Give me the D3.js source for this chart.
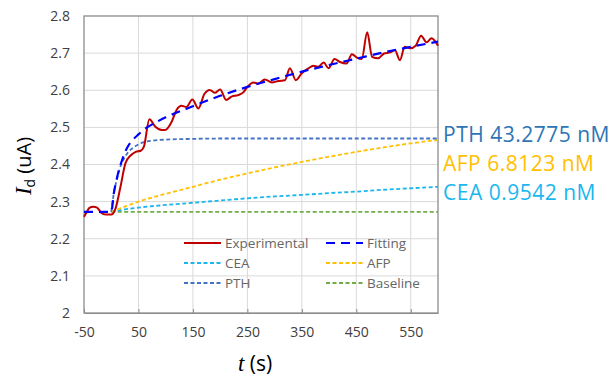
<!DOCTYPE html>
<html>
<head>
<meta charset="utf-8">
<script src="https://cdn.jsdelivr.net/npm/d3@7"></script>
<style>
  html, body { margin: 0; padding: 0; background: #fff; }
  svg { display: block; font-family: "Open Sans", "Noto Sans", sans-serif; }
</style>
</head>
<body>
<svg id="chart" width="615" height="380"></svg>
<script>
// Measured drain current (uA) over time (s)
const expT = [-50,-45,-40,-33,-26,-19,-10,0,8,17,26,36,45,54,60,70,81,93,99,111,120,129,138,149,160,171,181,190,200,211,221,233,243,250,261,270,282,295,307,319,328,339,350,362,371,380,390,399,410,420,432,442,451,460,470,479,490,501,512,521,530,539,549,559,569,579,588,600];
const expI = [2.259,2.272,2.283,2.286,2.284,2.271,2.265,2.265,2.282,2.340,2.403,2.425,2.434,2.437,2.448,2.522,2.502,2.493,2.493,2.515,2.547,2.558,2.555,2.575,2.551,2.590,2.601,2.593,2.602,2.574,2.583,2.587,2.595,2.609,2.621,2.618,2.629,2.621,2.625,2.627,2.659,2.627,2.646,2.659,2.666,2.663,2.675,2.659,2.684,2.676,2.672,2.697,2.688,2.684,2.756,2.690,2.686,2.699,2.702,2.708,2.681,2.717,2.713,2.720,2.747,2.729,2.740,2.720];

// Fitted model and its components
const fitT = [-50,0,5,10,15,20,25,30,40,50,60,80,100,150,200,250,300,350,400,450,500,550,600];
const fitI = [2.2725,2.2725,2.325,2.36,2.39,2.412,2.432,2.447,2.467,2.481,2.494,2.512,2.527,2.557,2.585,2.609,2.630,2.650,2.668,2.685,2.702,2.717,2.731];

const pthT = [0,5,10,15,20,25,30,40,50,60,80,100,150,200,300,400,500,600];
const pthI = [2.2725,2.325,2.358,2.386,2.406,2.420,2.431,2.445,2.454,2.460,2.465,2.467,2.469,2.470,2.470,2.470,2.470,2.470];

const afpT = [0,25,50,100,150,200,250,300,350,400,450,500,550,600];
const afpI = [2.2725,2.2865,2.300,2.321,2.340,2.359,2.376,2.392,2.407,2.421,2.434,2.446,2.457,2.466];

const ceaT = [0,25,50,100,150,200,250,300,350,400,450,500,550,600];
const ceaI = [2.2725,2.279,2.284,2.291,2.297,2.303,2.309,2.314,2.318,2.323,2.327,2.332,2.336,2.340];

const baseT = [0,600];
const baseI = [2.2725,2.2725];

const xTicks = [-50,50,150,250,350,450,550];
const yTicks = [2,2.1,2.2,2.3,2.4,2.5,2.6,2.7,2.8];

const labelNames = ["PTH 43.2775 nM","AFP 6.8123 nM","CEA 0.9542 nM"];

const svg = d3.select("#chart");
const L = 84, R = 438, T = 16, B = 313;
const x = d3.scaleLinear().domain([-50,600]).range([L,R]);
const y = d3.scaleLinear().domain([2,2.8]).range([B,T]);

const zip = (ts, vs) => ts.map((t,i) => [t, vs[i]]);

// grid
const g = svg.append("g");
g.selectAll(".vg").data(xTicks.slice(1)).join("line")
  .attr("x1", d => x(d)).attr("x2", d => x(d)).attr("y1", T).attr("y2", B)
  .attr("stroke", "#d9d9d9").attr("stroke-width", 1);
g.selectAll(".hg").data(yTicks.slice(1, -1)).join("line")
  .attr("x1", L).attr("x2", R).attr("y1", d => y(d)).attr("y2", d => y(d))
  .attr("stroke", "#d9d9d9").attr("stroke-width", 1);

// frame
svg.append("rect").attr("x", L).attr("y", T).attr("width", R-L).attr("height", B-T)
  .attr("fill", "none").attr("stroke", "#8c8c8c").attr("stroke-width", 1.3);

// axes
const xAxis = d3.axisBottom(x).tickValues(xTicks).tickSizeInner(-4).tickSizeOuter(0).tickPadding(14)
  .tickFormat(d => String(d));
const xg = svg.append("g").attr("transform", `translate(0,${B})`).call(xAxis);
xg.select(".domain").attr("stroke", "#8c8c8c");
xg.selectAll(".tick line").attr("stroke", "#8c8c8c");
xg.selectAll("text").attr("font-size", 14).attr("fill", "#404040").attr("font-family", "Open Sans");

const yAxis = d3.axisLeft(y).tickValues(yTicks).tickSize(0).tickPadding(14)
  .tickFormat(d => String(+d.toFixed(1)));
const yg = svg.append("g").attr("transform", `translate(${L},0)`).call(yAxis);
yg.select(".domain").remove();
yg.selectAll("text").attr("font-size", 14).attr("fill", "#404040").attr("font-family", "Open Sans");

// series
const sharp = d3.line().x(d => x(d[0])).y(d => y(d[1])).curve(d3.curveMonotoneX);
const mono = d3.line().x(d => x(d[0])).y(d => y(d[1])).curve(d3.curveMonotoneX);

const series = [
  {name:"Baseline", data: zip(baseT, baseI), color:"#70AD47", dash:"4,2.5", w:1.8, gen: mono},
  {name:"CEA", data: zip(ceaT, ceaI), color:"#1AB7EE", dash:"4,2.5", w:1.8, gen: mono},
  {name:"AFP", data: zip(afpT, afpI), color:"#FFC000", dash:"4,2.5", w:1.8, gen: mono},
  {name:"PTH", data: zip(pthT, pthI), color:"#4472C4", dash:"4,2.5", w:1.8, gen: mono},
  {name:"Experimental", data: zip(expT, expI), color:"#C00000", dash:null, w:2, gen: sharp},
  {name:"Fitting", data: zip(fitT, fitI), color:"#0000FF", dash:"9,6", w:2.2, gen: mono}
];
series.forEach(s => {
  svg.append("path").attr("d", s.gen(s.data)).attr("fill", "none")
    .attr("stroke", s.color).attr("stroke-width", s.w)
    .attr("stroke-dasharray", s.dash).attr("stroke-linejoin", "round");
});

// legend
const legend = [
  {name:"Experimental", col:0, row:0}, {name:"Fitting", col:1, row:0},
  {name:"CEA", col:0, row:1}, {name:"AFP", col:1, row:1},
  {name:"PTH", col:0, row:2}, {name:"Baseline", col:1, row:2}
];
const lg = svg.append("g");
legend.forEach(it => {
  const s = series.find(q => q.name === it.name);
  const lx = it.col ? 326 : 184, ly = 243 + it.row * 20;
  lg.append("line").attr("x1", lx).attr("x2", lx + 37).attr("y1", ly).attr("y2", ly)
    .attr("stroke", s.color).attr("stroke-width", s.w).attr("stroke-dasharray", s.dash);
  lg.append("text").attr("x", lx + 41).attr("y", ly).attr("dy", "0.35em")
    .attr("font-size", 13.5).attr("fill", "#666").text(it.name);
});

// concentration labels at right
const labelColors = ["#2E75B6", "#FFC000", "#1AB7EE"];
labelNames.forEach((t, i) => {
  svg.append("text").attr("x", 443).attr("y", 135 + i * 29).attr("dy", "0.35em")
    .attr("font-size", 21).attr("letter-spacing", 0.5)
    .attr("fill", labelColors[i]).text(t);
});

// axis titles
const xt = svg.append("text").attr("x", 255).attr("y", 371).attr("text-anchor", "middle")
  .attr("font-size", 21).attr("fill", "#000");
xt.append("tspan").attr("font-style", "italic").attr("font-family", "Liberation Serif").attr("font-size", 23).text("t");
xt.append("tspan").text(" (s)");

const yt = svg.append("text").attr("transform", "translate(31,166) rotate(-90)")
  .attr("text-anchor", "middle").attr("font-size", 20).attr("fill", "#000");
yt.append("tspan").attr("font-style", "italic").attr("font-family", "Liberation Serif").attr("font-size", 23).text("I");
yt.append("tspan").attr("font-size", 14).attr("dy", 4).text("d");
yt.append("tspan").attr("dy", -4).text(" (uA)");
</script>
</body>
</html>
